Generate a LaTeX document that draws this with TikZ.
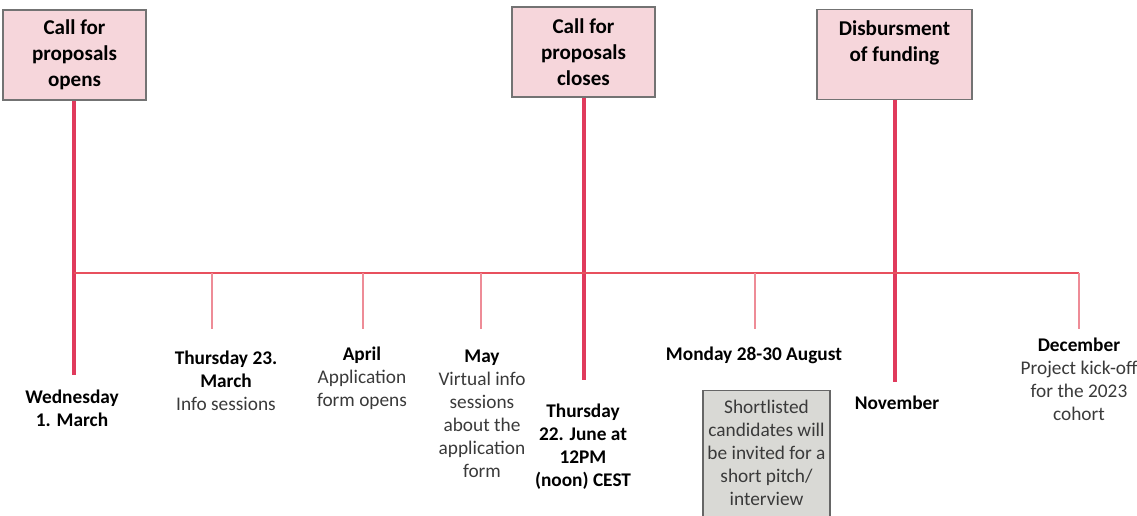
\documentclass[tikz,border=0pt]{standalone}
\usepackage{fontspec}
\setmainfont{Carlito}
\usepackage{xcolor}
\definecolor{BoxPink}{HTML}{F6D6DB}
\definecolor{BoxGrey}{HTML}{D9D9D5}
\definecolor{StemRed}{HTML}{E03A5C}
\definecolor{AxisRed}{HTML}{E8505E}
\definecolor{TickRed}{HTML}{EE8C97}
\definecolor{TextGrey}{HTML}{3A3A3A}

\begin{document}
\begin{tikzpicture}[x=0.02cm, y=-0.02cm,
      milestone/.style={draw=black!55, fill=BoxPink, line width=0.6pt, align=center,
        minimum width=143*0.02cm, minimum height=90*0.02cm, inner sep=0pt,
        font=\fontsize{12}{14.8}\selectfont\bfseries},
      note/.style={align=center, inner sep=0pt, text=TextGrey,
        font=\fontsize{11}{13.1}\selectfont},
      stem/.style={StemRed, line width=1.8pt},
      tick/.style={TickRed, line width=0.6pt}]
    \tikzstyle{when} = [font=\fontsize{11}{13.1}\selectfont\bfseries, text=black]
    \clip (0,0) rectangle (1137,516);

    % milestone boxes and their stems
    \node (open) [milestone] at (74.5,55) {Call for\\proposals\\opens};
    \node (close) [milestone] at (583.5,52) {Call for\\proposals\\closes};
    \node (funding) [milestone, minimum width=155*0.02cm] at (894.5,54.5) {Disbursment\\of funding\\\phantom{x}};
    \coordinate (openEnd) at (74,375);
    \coordinate (closeEnd) at (584,380);
    \coordinate (fundingEnd) at (895,382);
    \draw[stem] (open.south -| openEnd) -- (openEnd);
    \draw[stem] (close.south -| closeEnd) -- (closeEnd);
    \draw[stem] (funding.south -| fundingEnd) -- (fundingEnd);

    % axis and ticks
    \coordinate (axisStart) at (74,273);
    \coordinate (axisEnd) at (1079,273);
    \draw[AxisRed, line width=0.8pt] (axisStart) -- (axisEnd);
    \foreach \name/\x in {march/212, april/363, may/481, august/755, december/1079} {
      \coordinate (\name Top) at (\x,273);
      \coordinate (\name Foot) at (\x,329);
      \draw[tick] (\name Top) -- (\name Foot);
    }

    % labels
    \node (wed) [note, when] at (72,408.5) {Wednesday\\1. March};
    \node (thu23) [note] at (226,381) {{\bfseries\color{black}Thursday 23.}\\{\bfseries\color{black}March}\\Info sessions};
    \node (apr) [note] at (362,378) {{\bfseries\color{black}April}\\Application\\form opens};
    \node (mayTxt) [note] at (482,413.5) {{\bfseries\color{black}May}\\Virtual info\\sessions\\about the\\application\\form};
    \node (thu22) [note, when] at (583,447) {Thursday\\22. June at\\12PM\\(noon) CEST};
    \node (mon) [note, when] at (754,355) {Monday 28-30 August};
    \node (short) [note, draw=black!60, fill=BoxGrey, line width=0.6pt, anchor=north,
      minimum width=127*0.02cm, inner xsep=0pt, inner ysep=5.5pt, text depth=40*0.02cm] at (766.5,390)
      {Shortlisted\\candidates will\\be invited for a\\short pitch/\\interview};
    \node (nov) [note, when] at (897,403) {November};
    \node (dec) [note] at (1079,379.5) {{\bfseries\color{black}December}\\Project kick-off\\for the 2023\\cohort};
\end{tikzpicture}
\end{document}
